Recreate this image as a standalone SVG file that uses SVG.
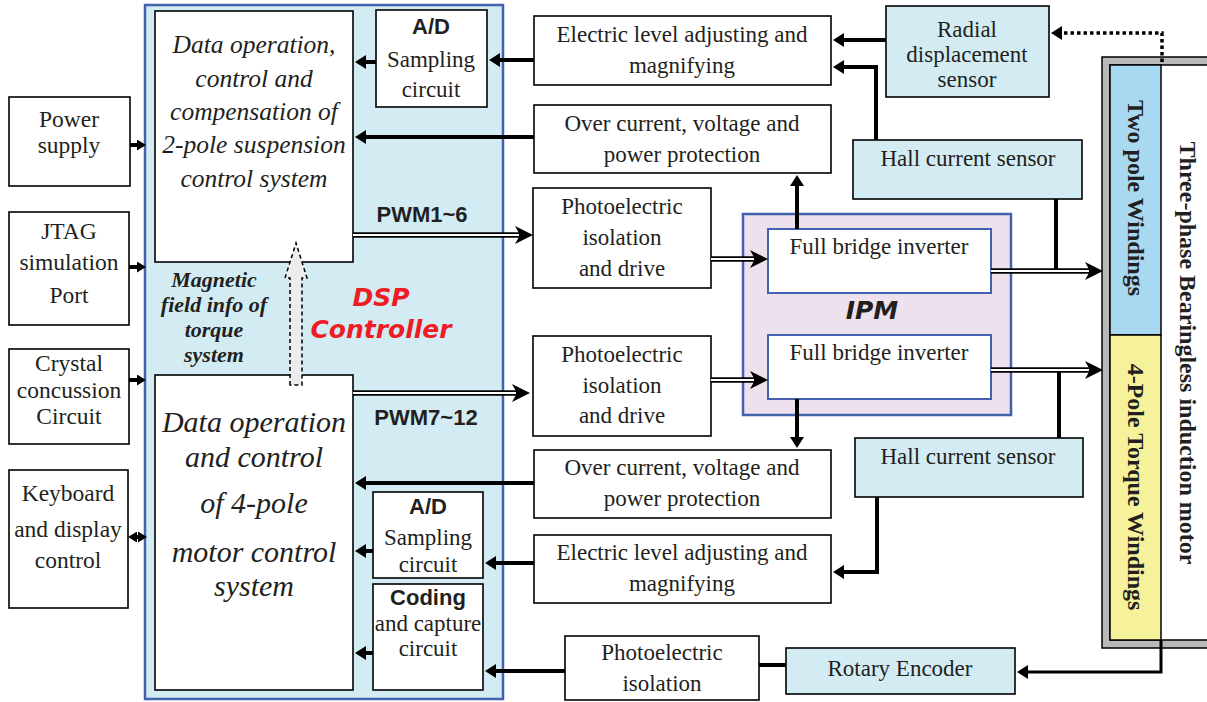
<svg xmlns="http://www.w3.org/2000/svg" width="1207" height="702" viewBox="0 0 1207 702">
<style>
.box{fill:#fff;stroke:#000;stroke-width:1.6}
.lb{fill:#d3ecf3;stroke:#000;stroke-width:1.6}
.bb{fill:#fff;stroke:#4262ad;stroke-width:2}
.t{font-family:"Liberation Serif",serif;font-size:23px;fill:#231f20;text-anchor:middle}
.tl{font-family:"Liberation Serif",serif;font-size:23.5px;fill:#231f20;text-anchor:middle}
.it{font-family:"Liberation Serif",serif;font-style:italic;fill:#231f20;text-anchor:middle}
.bs{font-family:"Liberation Sans",sans-serif;font-weight:bold;font-size:22px;fill:#231f20;text-anchor:middle}
.mot{font-family:"Liberation Serif",serif;font-weight:bold;font-size:24px;fill:#231f20;text-anchor:middle}
.ln{fill:none;stroke:#000;stroke-width:4}
.dl{fill:none;stroke:#000;stroke-width:5.5}
.dw{fill:none;stroke:#fff;stroke-width:2.2}
</style>
<defs>
<marker id="ah" markerUnits="userSpaceOnUse" markerWidth="12" markerHeight="14" refX="2" refY="7" orient="auto-start-reverse"><path d="M0,0 L11,7 L0,14 Z" fill="#000"/></marker>
<marker id="ahs" markerUnits="userSpaceOnUse" markerWidth="10" markerHeight="11" refX="1" refY="5.5" orient="auto-start-reverse"><path d="M0,0 L9,5.5 L0,11 Z" fill="#000"/></marker>
<marker id="dah" markerUnits="userSpaceOnUse" markerWidth="19" markerHeight="19" refX="8" refY="9" orient="auto"><path d="M0,0 L18,9 L0,18 L5,9 Z" fill="#000"/></marker>
</defs>

<g id="dsp">
<rect x="145" y="5" width="358" height="694" fill="#d3ecf3" stroke="#4262ad" stroke-width="2.5"/>
<text x="381" y="306" font-family="'DejaVu Sans',sans-serif" font-weight="bold" font-style="italic" font-size="25" fill="#ee1c25" text-anchor="middle">DSP</text>
<text x="381" y="338" font-family="'DejaVu Sans',sans-serif" font-weight="bold" font-style="italic" font-size="25" fill="#ee1c25" text-anchor="middle">Controller</text>
<text class="it" font-weight="bold" font-size="22" x="214" y="287">Magnetic</text>
<text class="it" font-weight="bold" font-size="22" x="214" y="312">field info of</text>
<text class="it" font-weight="bold" font-size="22" x="214" y="337">torque</text>
<text class="it" font-weight="bold" font-size="22" x="214" y="362">system</text>
<text class="bs" x="422" y="222">PWM1~6</text>
<text class="bs" x="426" y="425">PWM7~12</text>
</g>

<g id="ctrl2pole">
<rect class="box" x="155" y="11" width="198" height="251"/>
<text class="it" font-size="25.5" x="254" y="53">Data operation,</text>
<text class="it" font-size="25.5" x="254" y="87">control and</text>
<text class="it" font-size="25.5" x="254" y="120">compensation of</text>
<text class="it" font-size="25.5" x="254" y="153">2-pole suspension</text>
<text class="it" font-size="25.5" x="254" y="187">control system</text>
</g>

<g id="ctrl4pole">
<rect class="box" x="155" y="375" width="198" height="315"/>
<text class="it" font-size="30" x="254" y="432">Data operation</text>
<text class="it" font-size="30" x="254" y="467">and control</text>
<text class="it" font-size="30" x="254" y="513">of 4-pole</text>
<text class="it" font-size="30" x="254" y="562">motor control</text>
<text class="it" font-size="30" x="254" y="596">system</text>
</g>

<g id="ad1">
<rect class="box" x="376" y="10" width="111" height="97"/>
<text class="bs" x="431" y="34">A/D</text>
<text class="t" x="431" y="67">Sampling</text>
<text class="t" x="431" y="97">circuit</text>
</g>
<g id="ad2">
<rect class="box" x="373" y="492" width="110" height="86"/>
<text class="bs" x="428" y="514">A/D</text>
<text class="t" x="428" y="545">Sampling</text>
<text class="t" x="428" y="572">circuit</text>
</g>
<g id="coding">
<rect class="box" x="373" y="584" width="110" height="106"/>
<text class="bs" x="428" y="605">Coding</text>
<text class="t" x="428" y="631">and capture</text>
<text class="t" x="428" y="656">circuit</text>
</g>

<g id="power">
<rect class="box" x="9" y="97" width="121" height="89"/>
<text class="tl" x="69" y="127">Power</text>
<text class="tl" x="69" y="153">supply</text>
</g>
<g id="jtag">
<rect class="box" x="9" y="212" width="120" height="113"/>
<text class="tl" x="69" y="239">JTAG</text>
<text class="tl" x="69" y="270">simulation</text>
<text class="tl" x="69" y="303">Port</text>
</g>
<g id="crystal">
<rect class="box" x="9" y="349" width="120" height="95"/>
<text class="tl" x="69" y="371">Crystal</text>
<text class="tl" x="69" y="398">concussion</text>
<text class="tl" x="69" y="424">Circuit</text>
</g>
<g id="keyboard">
<rect class="box" x="9" y="470" width="119" height="138"/>
<text class="tl" x="68" y="501">Keyboard</text>
<text class="tl" x="68" y="537">and display</text>
<text class="tl" x="68" y="568">control</text>
</g>

<g id="elev1">
<rect class="box" x="534" y="16" width="297" height="69"/>
<text class="t" x="682" y="42">Electric level adjusting and</text>
<text class="t" x="682" y="73">magnifying</text>
</g>
<g id="ovc1">
<rect class="box" x="534" y="105" width="297" height="68"/>
<text class="t" x="682" y="131">Over current, voltage and</text>
<text class="t" x="682" y="162">power protection</text>
</g>
<g id="pe1">
<rect class="box" x="533" y="188" width="178" height="100"/>
<text class="t" x="622" y="214">Photoelectric</text>
<text class="t" x="622" y="245">isolation</text>
<text class="t" x="622" y="276">and drive</text>
</g>
<g id="pe2">
<rect class="box" x="533" y="336" width="178" height="100"/>
<text class="t" x="622" y="362">Photoelectric</text>
<text class="t" x="622" y="393">isolation</text>
<text class="t" x="622" y="423">and drive</text>
</g>
<g id="ovc2">
<rect class="box" x="534" y="450" width="297" height="68"/>
<text class="t" x="682" y="475">Over current, voltage and</text>
<text class="t" x="682" y="506">power protection</text>
</g>
<g id="elev2">
<rect class="box" x="534" y="535" width="297" height="68"/>
<text class="t" x="682" y="560">Electric level adjusting and</text>
<text class="t" x="682" y="591">magnifying</text>
</g>
<g id="pe3">
<rect class="box" x="565" y="636" width="194" height="64"/>
<text class="t" x="662" y="660">Photoelectric</text>
<text class="t" x="662" y="691">isolation</text>
</g>
<g id="rotary">
<rect class="lb" x="786" y="648" width="229" height="46"/>
<text class="t" x="900" y="676">Rotary Encoder</text>
</g>
<g id="radial">
<rect class="lb" x="886" y="6" width="163" height="91"/>
<text class="t" x="967" y="37">Radial</text>
<text class="t" x="967" y="62">displacement</text>
<text class="t" x="967" y="87">sensor</text>
</g>
<g id="hall1">
<rect class="lb" x="853" y="140" width="229" height="59"/>
<text class="t" x="968" y="166">Hall current sensor</text>
</g>
<g id="hall2">
<rect class="lb" x="855" y="438" width="228" height="59"/>
<text class="t" x="968" y="464">Hall current sensor</text>
</g>

<g id="ipm">
<rect x="743" y="214" width="268" height="201" fill="#ede1ee" stroke="#4262ad" stroke-width="2.5"/>
<text x="872" y="319" font-family="'DejaVu Sans',sans-serif" font-weight="bold" font-style="italic" font-size="25" fill="#231f20" text-anchor="middle">IPM</text>
</g>
<g id="fbi1">
<rect class="bb" x="768" y="229" width="223" height="64"/>
<text class="t" x="879" y="254">Full bridge inverter</text>
</g>
<g id="fbi2">
<rect class="bb" x="768" y="335" width="223" height="64"/>
<text class="t" x="879" y="360">Full bridge inverter</text>
</g>

<g id="motor">
<rect x="1102" y="57" width="140" height="591" fill="#b8b8b8" stroke="#000" stroke-width="1.5"/>
<rect x="1110" y="65" width="130" height="575" fill="#fff" stroke="#000" stroke-width="1.5"/>
<rect x="1110" y="65" width="51" height="270" fill="#a9d8f1" stroke="#000" stroke-width="1.5"/>
<rect x="1110" y="335" width="51" height="305" fill="#f6f29b" stroke="#000" stroke-width="1.5"/>
<text class="mot" transform="translate(1128,198) rotate(90)">Two pole Windings</text>
<text class="mot" transform="translate(1128,487) rotate(90)">4-Pole Torque Windings</text>
<text class="mot" transform="translate(1180,353) rotate(90)">Three-phase Bearingless induction motor</text>
</g>

<g id="connectors">
<path class="ln" d="M130,145 H138" marker-end="url(#ahs)"/>
<path class="ln" d="M129,267 H138" marker-end="url(#ahs)"/>
<path class="ln" d="M129,380 H138" marker-end="url(#ahs)"/>
<path class="ln" d="M136,537 H139" marker-start="url(#ahs)" marker-end="url(#ahs)"/>
<path class="ln" d="M376,62 H364" marker-end="url(#ah)"/>
<path class="ln" d="M534,60 H498" marker-end="url(#ah)"/>
<path class="ln" d="M534,137 H364" marker-end="url(#ah)"/>
<path class="ln" d="M886,40 H842" marker-end="url(#ah)"/>
<path class="ln" d="M876,140 V67 H842" marker-end="url(#ah)"/>
<path d="M1162,62 V33 H1060" fill="none" stroke="#000" stroke-width="3.5" stroke-dasharray="3.5 3" marker-end="url(#ah)"/>
<path class="ln" d="M797,229 V184" marker-end="url(#ah)"/>
<path class="ln" d="M797,399 V439" marker-end="url(#ah)"/>
<path class="ln" d="M1056,199 V271"/>
<path class="ln" d="M1059,370 V438"/>
<path class="ln" d="M534,483 H364" marker-end="url(#ah)"/>
<path class="ln" d="M534,563 H494" marker-end="url(#ah)"/>
<path class="ln" d="M373,551 H364" marker-end="url(#ah)"/>
<path class="ln" d="M877,497 V572 H842" marker-end="url(#ah)"/>
<path class="ln" d="M373,653 H364" marker-end="url(#ah)"/>
<path class="ln" d="M565,671 H494" marker-end="url(#ah)"/>
<path class="ln" d="M759,665 H786"/>
<path d="M1161,640 V672 H1026" fill="none" stroke="#000" stroke-width="3" marker-end="url(#ah)"/>
<path class="dl" d="M353,235 H523" marker-end="url(#dah)"/>
<path class="dw" d="M353,235 H519"/>
<path class="dl" d="M711,259 H758" marker-end="url(#dah)"/>
<path class="dw" d="M711,259 H754"/>
<path class="dl" d="M991,271 H1093" marker-end="url(#dah)"/>
<path class="dw" d="M991,271 H1089"/>
<path class="dl" d="M353,393 H520" marker-end="url(#dah)"/>
<path class="dw" d="M353,393 H516"/>
<path class="dl" d="M711,380 H758" marker-end="url(#dah)"/>
<path class="dw" d="M711,380 H754"/>
<path class="dl" d="M991,370 H1093" marker-end="url(#dah)"/>
<path class="dw" d="M991,370 H1089"/>
<polygon points="290,385 290,278 285,278 296,243 307,278 302,278 302,385" fill="#ececec" stroke="#000" stroke-width="1.5" stroke-dasharray="4 3"/>
</g>
</svg>
